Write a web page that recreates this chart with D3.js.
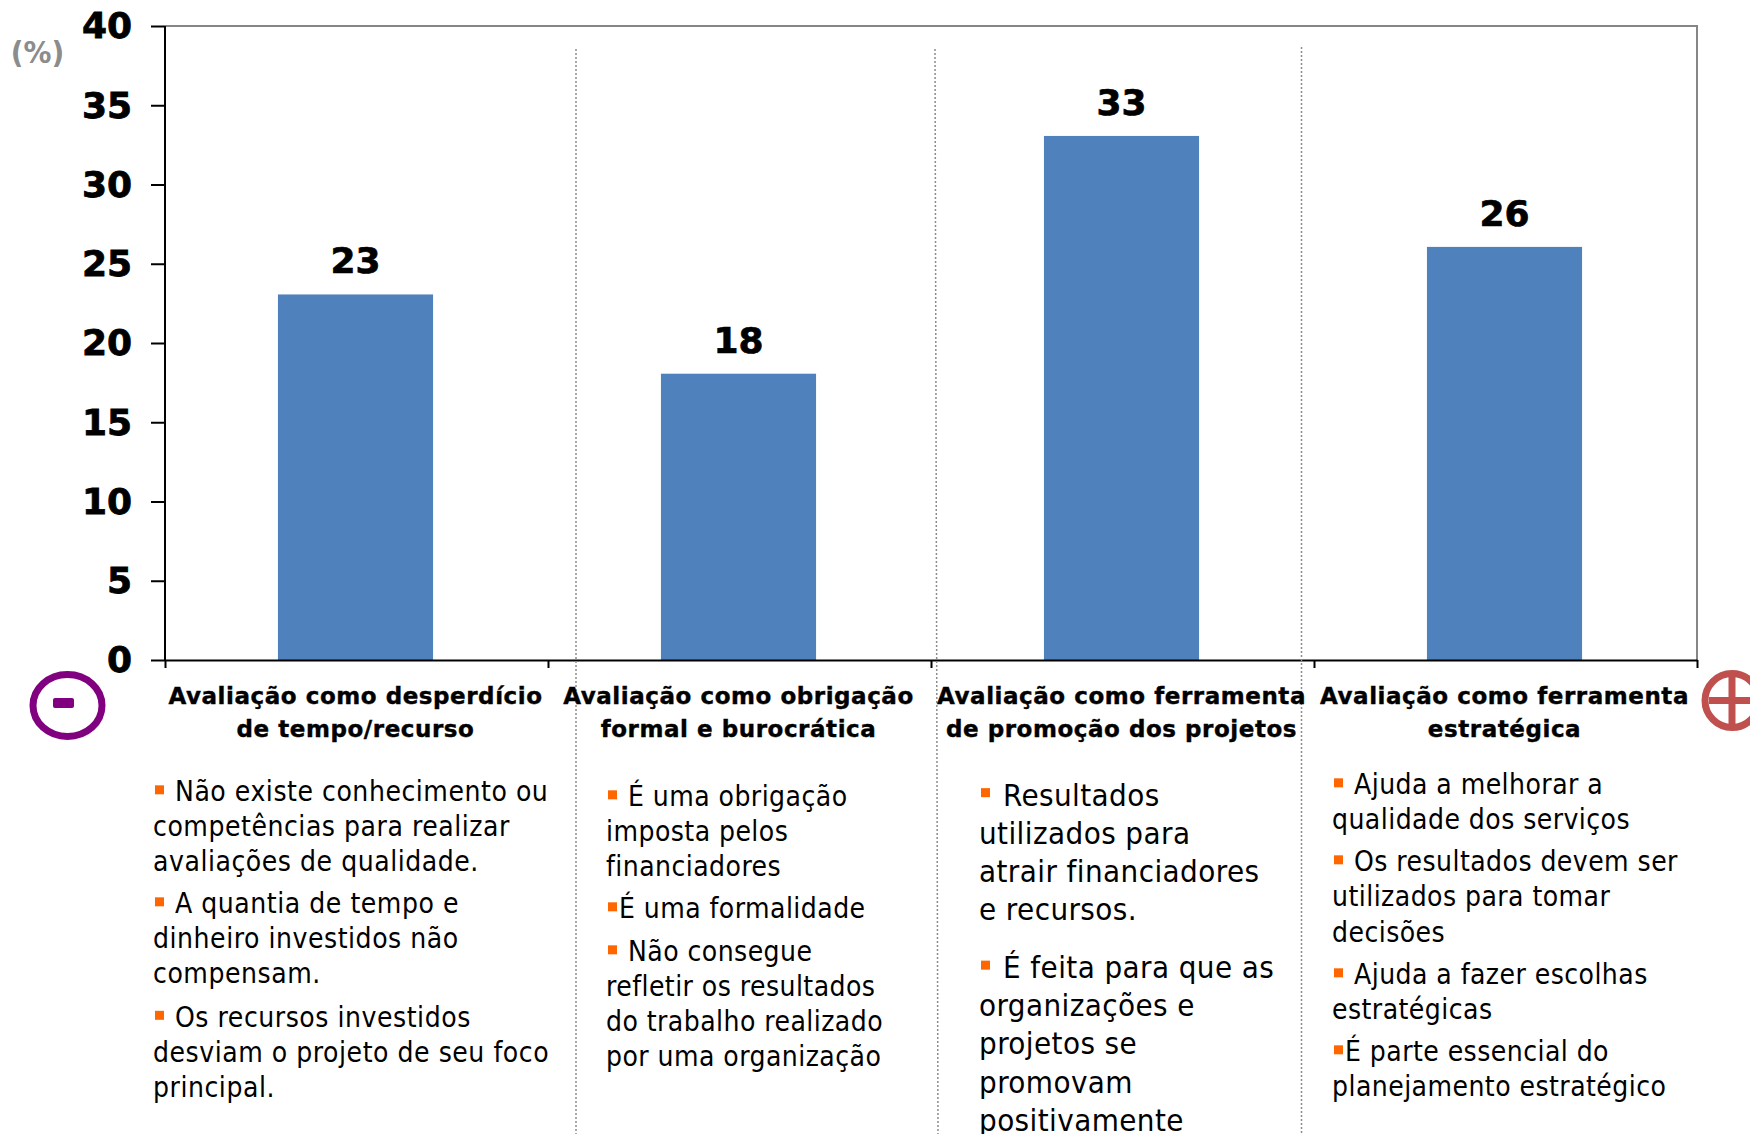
<!DOCTYPE html>
<html>
<head>
<meta charset="utf-8">
<script src="https://cdn.jsdelivr.net/npm/d3@7"></script>
<style>
  html, body { margin: 0; padding: 0; background: #fff; }
  svg { display: block; }
</style>
</head>
<body>
<svg id="mainsvg" width="1750" height="1134"></svg>
<script>
const categories = [
  ['Avaliação como desperdício', 'de tempo/recurso'],
  ['Avaliação como obrigação', 'formal e burocrática'],
  ['Avaliação como ferramenta', 'de promoção dos projetos'],
  ['Avaliação como ferramenta', 'estratégica']
];
const values = [23, 18, 33, 26];
const yTicks = [0, 5, 10, 15, 20, 25, 30, 35, 40];

const notes = [
  [
    ['Não existe conhecimento ou', 'competências para realizar', 'avaliações de qualidade.'],
    ['A quantia de tempo e', 'dinheiro investidos não', 'compensam.'],
    ['Os recursos investidos', 'desviam o projeto de seu foco', 'principal.']
  ],
  [
    ['É uma obrigação', 'imposta pelos', 'financiadores'],
    ['É uma formalidade'],
    ['Não consegue', 'refletir os resultados', 'do trabalho realizado', 'por uma organização']
  ],
  [
    ['Resultados', 'utilizados para', 'atrair financiadores', 'e recursos.'],
    ['É feita para que as', 'organizações e', 'projetos se', 'promovam', 'positivamente']
  ],
  [
    ['Ajuda a melhorar a', 'qualidade dos serviços'],
    ['Os resultados devem ser', 'utilizados para tomar', 'decisões'],
    ['Ajuda a fazer escolhas', 'estratégicas'],
    ['É parte essencial do', 'planejamento estratégico']
  ]
];

// where each column of notes sits: left edge, font size, line step, baseline of each group
const noteLayout = [
  {x: 153, size: 28, spacing: 0.54, step: 35.2, tops: [801, 913, 1026.5], indent: 22, tight: []},
  {x: 606, size: 28, spacing: 0.45, step: 35, tops: [806, 918, 961], indent: 22, tight: [1]},
  {x: 979, size: 31, spacing: 0.42, step: 38.2, tops: [805.5, 978], indent: 24, tight: []},
  {x: 1332, size: 28, spacing: 0.45, step: 35.4, tops: [794, 871, 984, 1061], indent: 22, tight: [3]}
];

const dividers = [
  {x1: 576, y1: 49, x2: 576, y2: 1134},
  {x1: 935, y1: 49, x2: 938, y2: 1134},
  {x1: 1301.5, y1: 47, x2: 1301.5, y2: 1134}
];

const svg = d3.select('#mainsvg');
const margin = {top: 26, left: 165, right: 1697, bottom: 660};
const boldFont = '"DejaVu Sans", Verdana, sans-serif';
const bodyFont = '"DejaVu Sans Condensed", "DejaVu Sans", sans-serif';

const xScale = d3.scaleBand()
  .domain(d3.range(values.length))
  .range([margin.left - 1, margin.right - 1])
  .paddingInner(0.595)
  .paddingOuter(0.2975);

const xEdges = d3.scaleLinear()
  .domain([0, values.length])
  .range([margin.left, margin.right]);

const yScale = d3.scaleLinear()
  .domain([0, 40])
  .range([margin.bottom, margin.top]);

// the bars in the picture rise a touch above their scale position
const barLift = 1;

// grey frame, top and right
svg.append('path')
  .attr('d', `M${margin.left},${margin.top}H${margin.right}V${margin.bottom}`)
  .attr('fill', 'none')
  .attr('stroke', '#868686')
  .attr('stroke-width', 2);

// bars
svg.append('g').selectAll('rect')
  .data(values)
  .join('rect')
  .attr('x', (d, i) => xScale(i))
  .attr('y', d => yScale(d) - barLift)
  .attr('width', xScale.bandwidth())
  .attr('height', d => yScale(0) - yScale(d) + barLift)
  .attr('fill', '#4F81BD');

// value labels
svg.append('g').selectAll('text')
  .data(values)
  .join('text')
  .text(d => d)
  .attr('x', (d, i) => xScale(i) + xScale.bandwidth() / 2)
  .attr('y', d => yScale(d) - 22)
  .attr('text-anchor', 'middle')
  .attr('font-family', boldFont)
  .attr('font-weight', 'bold')
  .attr('font-size', 36)
  .attr('fill', '#000')
  .attr('stroke', '#000')
  .attr('stroke-width', 0.7);

// axes
const yAxis = d3.axisLeft(yScale).tickValues(yTicks).tickSize(14).tickPadding(19);
const gy = svg.append('g')
  .attr('transform', `translate(${margin.left}, 0)`)
  .call(yAxis);
gy.select('.domain').attr('d', `M0,${margin.top}V${margin.bottom}`).attr('stroke', '#000').attr('stroke-width', 2);
gy.selectAll('.tick line').attr('stroke', '#000').attr('stroke-width', 2);
gy.selectAll('.tick text')
  .attr('dy', '0.33em')
  .attr('font-family', boldFont)
  .attr('font-weight', 'bold')
  .attr('font-size', 36)
  .attr('fill', '#000')
  .attr('stroke', '#000')
  .attr('stroke-width', 0.8);

const xAxis = d3.axisBottom(xEdges).tickValues(d3.range(values.length + 1)).tickFormat('').tickSize(8).tickSizeOuter(0);
const gx = svg.append('g')
  .attr('transform', `translate(0, ${margin.bottom})`)
  .call(xAxis);
gx.select('.domain').attr('stroke', '#000').attr('stroke-width', 2);
gx.selectAll('.tick line').attr('stroke', '#000').attr('stroke-width', 2);

svg.append('text')
  .text('(%)')
  .attr('x', 37.5)
  .attr('y', 63)
  .attr('text-anchor', 'middle')
  .attr('font-family', bodyFont)
  .attr('font-weight', 'bold')
  .attr('font-size', 31)
  .attr('fill', '#8C8C8C');

// dotted column dividers
svg.append('g').selectAll('line')
  .data(dividers)
  .join('line')
  .attr('x1', d => d.x1)
  .attr('y1', d => d.y1)
  .attr('x2', d => d.x2)
  .attr('y2', d => d.y2)
  .attr('stroke', '#8C8C8C')
  .attr('stroke-width', 1.5)
  .attr('stroke-dasharray', '2 2');

// category labels
categories.forEach((lines, i) => {
  lines.forEach((line, j) => {
    svg.append('text')
      .text(line)
      .attr('x', xScale(i) + xScale.bandwidth() / 2)
      .attr('y', 704 + j * 32.5)
      .attr('text-anchor', 'middle')
      .attr('font-family', boldFont)
      .attr('font-weight', 'bold')
      .attr('font-size', 23)
      .attr('letter-spacing', 0.55)
      .attr('fill', '#000')
      .attr('stroke', '#000')
      .attr('stroke-width', 0.4);
  });
});

// notes under the chart
notes.forEach((groups, c) => {
  const layout = noteLayout[c];
  groups.forEach((lines, g) => {
    const top = layout.tops[g];
    const tight = layout.tight.includes(g);
    svg.append('rect')
      .attr('x', layout.x + 2)
      .attr('y', top - layout.size * 0.56)
      .attr('width', 9)
      .attr('height', 9)
      .attr('fill', '#FF6600');
    lines.forEach((line, k) => {
      svg.append('text')
        .text(line)
        .attr('x', layout.x + (k === 0 ? (tight ? 13 : layout.indent) : 0))
        .attr('y', top + k * layout.step)
        .attr('font-family', bodyFont)
        .attr('font-size', layout.size)
        .attr('letter-spacing', layout.spacing)
        .attr('fill', '#000');
    });
  });
});

// minus and plus symbols either side of the scale
svg.append('ellipse')
  .attr('cx', 67.5).attr('cy', 705.5)
  .attr('rx', 34.5).attr('ry', 31)
  .attr('fill', 'none')
  .attr('stroke', '#800080')
  .attr('stroke-width', 7);
svg.append('rect')
  .attr('x', 53).attr('y', 698)
  .attr('width', 21).attr('height', 10)
  .attr('rx', 2)
  .attr('fill', '#800080');

svg.append('circle')
  .attr('cx', 1732).attr('cy', 700.5)
  .attr('r', 27)
  .attr('fill', 'none')
  .attr('stroke', '#C0504D')
  .attr('stroke-width', 7);
svg.append('path')
  .attr('d', 'M1709,700.5H1750M1732,677V724')
  .attr('fill', 'none')
  .attr('stroke', '#C0504D')
  .attr('stroke-width', 7);
</script>
</body>
</html>
